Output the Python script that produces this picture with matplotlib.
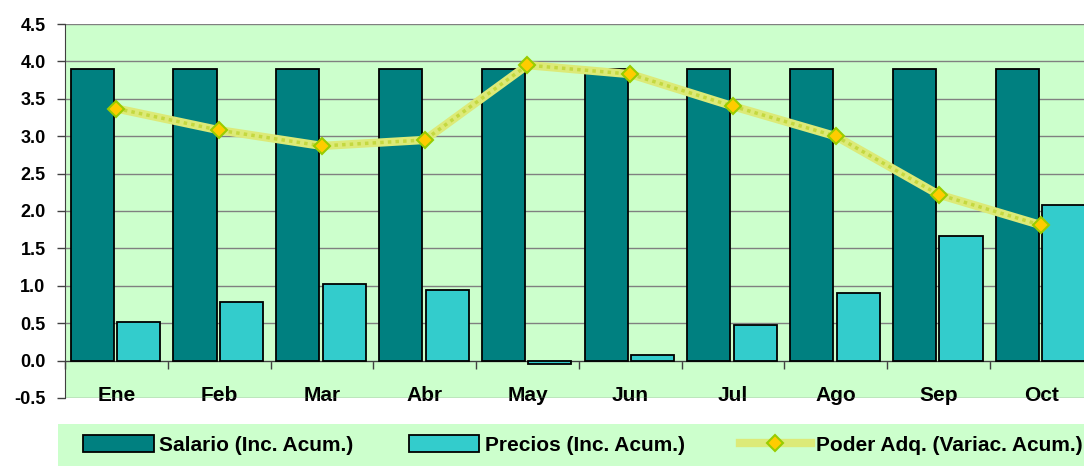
import matplotlib
matplotlib.use("Agg")
import matplotlib.pyplot as plt
from matplotlib.lines import Line2D
from matplotlib.patches import Patch, Rectangle
import numpy as np

meses = ["Ene", "Feb", "Mar", "Abr", "May", "Jun", "Jul", "Ago", "Sep", "Oct"]
salario = [3.9, 3.9, 3.9, 3.9, 3.9, 3.9, 3.9, 3.9, 3.9, 3.9]
precios = [0.52, 0.79, 1.03, 0.95, -0.05, 0.07, 0.48, 0.91, 1.67, 2.08]
poder = [3.37, 3.08, 2.87, 2.95, 3.95, 3.83, 3.40, 3.00, 2.22, 1.81]

c_sal = "#008080"
c_pre = "#33cccc"
c_bg = "#ccffcc"
c_line = "#dcea78"

plt.rcParams["font.family"] = ["Liberation Sans", "DejaVu Sans"]
plt.rcParams["font.weight"] = "bold"

fig = plt.figure(figsize=(10.84, 4.68), dpi=100)
ax = fig.add_axes([0.06, 0.1496, 0.948, 0.7991])
ax.set_facecolor(c_bg)

x = np.arange(len(meses))
ax.bar(x + 0.265, salario, width=0.42, color=c_sal, edgecolor="black", linewidth=1.3, zorder=3)
ax.bar(x + 0.718, precios, width=0.42, color=c_pre, edgecolor="black", linewidth=1.3, zorder=3)
# linea "rayada" tipo Excel
ax.plot(x + 0.5, poder, color=c_line, lw=6, zorder=4, solid_joinstyle="round")
ax.plot(x + 0.5, poder, color="#c4d840", lw=2.5, ls=(0, (1, 1.2)), zorder=4)
ax.plot(x + 0.5, poder, ls="none", marker="D", ms=8, mfc="#ffcc00", mec="#99cc00", mew=1.5, zorder=5)

ax.set_xlim(0, len(meses))
ax.set_ylim(-0.5, 4.5)
yt = np.arange(-0.5, 4.51, 0.5)
ax.set_yticks(yt)
ax.set_yticklabels([f"{v:.1f}" for v in yt])
ax.yaxis.grid(True, color="#808080", lw=1, zorder=0)
ax.tick_params(axis="y", labelsize=13, length=6, width=1, pad=8, color="#404040")

ax.spines["bottom"].set_position(("data", 0))
ax.spines["bottom"].set_color("#404040")
ax.spines["left"].set_color("#404040")
ax.spines["top"].set_visible(False)
ax.spines["right"].set_visible(False)
ax.set_xticks(np.arange(0, len(meses) + 1))
ax.set_xticklabels([])
ax.set_xticks(x + 0.5, minor=True)
ax.set_xticklabels(meses, minor=True)
ax.tick_params(axis="x", which="major", length=6, width=1, color="#404040")
ax.tick_params(axis="x", which="minor", length=0, labelsize=15, pad=18)

# fondo de la leyenda
fig.patches.append(Rectangle((0.0535, 0.004), 0.95, 0.09, transform=fig.transFigure,
                             facecolor=c_bg, edgecolor="none", zorder=0))

handles = [
    Patch(facecolor=c_sal, edgecolor="black", lw=1.3),
    Patch(facecolor=c_pre, edgecolor="black", lw=1.3),
    Line2D([], [], color=c_line, lw=6, marker="D", ms=8, mfc="#ffcc00", mec="#99cc00", mew=1.5),
]
labels = ["Salario (Inc. Acum.)", "Precios (Inc. Acum.)", "Poder Adq. (Variac. Acum.)"]
leg = fig.legend(handles, labels, loc="center", ncol=3, mode="expand",
                 bbox_to_anchor=(0.0766, 0.019, 0.922, 0.06), fontsize=15,
                 frameon=False, handlelength=3.4, handleheight=0.9,
                 handletextpad=0.25, borderpad=0, borderaxespad=0)

fig.savefig("out.png", dpi=100)
